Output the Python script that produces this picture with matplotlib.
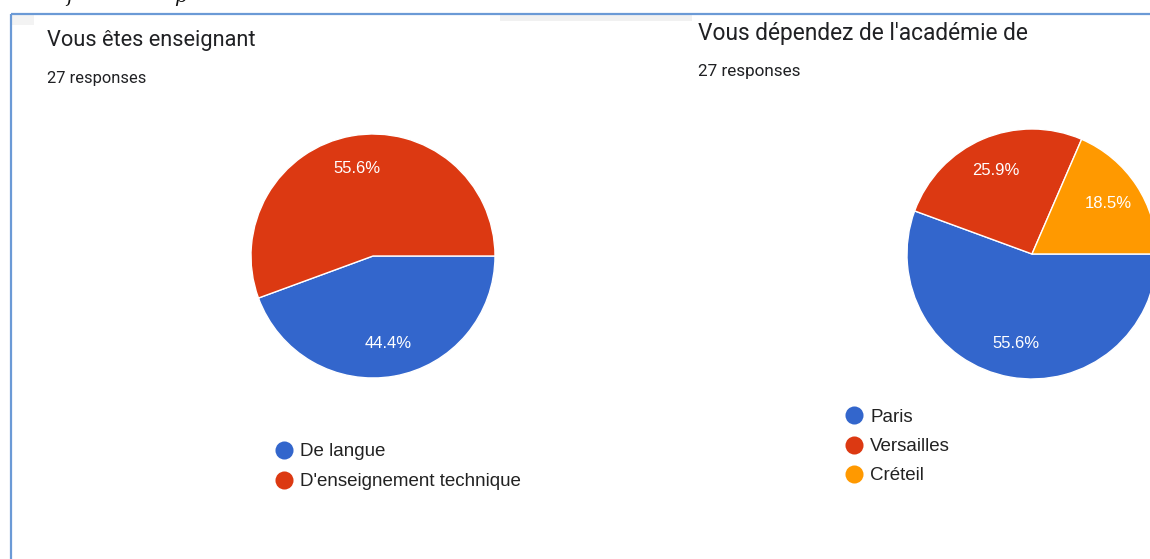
import matplotlib
matplotlib.use("Agg")
import matplotlib.pyplot as plt
from matplotlib.patches import Rectangle

# ---- data ----
left_title = "Vous êtes enseignant"
left_subtitle = "27 responses"
left_categories = ["De langue", "D'enseignement technique"]
left_values = [44.4, 55.6]

right_title = "Vous dépendez de l'académie de"
right_subtitle = "27 responses"
right_categories = ["Paris", "Versailles", "Créteil"]
right_values = [55.6, 25.9, 18.5]

colors = ["#3366CC", "#DC3912", "#FF9900"]

W, H = 1150, 559
fig = plt.figure(figsize=(W / 100, H / 100), dpi=100)
fig.patch.set_facecolor("white")

# overlay axes in pixel coordinates
ov = fig.add_axes([0, 0, 1, 1], zorder=0)
ov.set_xlim(0, W)
ov.set_ylim(H, 0)
ov.axis("off")

TITLE_FONT = ["Roboto", "DejaVu Sans"]
LABEL_FONT = ["Liberation Sans", "DejaVu Sans"]

# background details: panel gap shadow + frame
ov.add_patch(Rectangle((500, 15), 192, 6, color="#F1F1F1", lw=0))
ov.add_patch(Rectangle((12, 15), 22, 10, color="#F3F3F3", lw=0))
ov.plot([11, W], [14, 14], color="#6B9AD6", lw=1.6, solid_capstyle="butt")
ov.plot([11, 11], [14, H], color="#6B9AD6", lw=1.6, solid_capstyle="butt")

# clipped italic text fragment above the frame (cut off in the reference too)
ov.text(66, 1.5, "f", fontsize=14, family="DejaVu Serif", style="italic",
        va="baseline", color="#111111")
ov.text(174, 1.5, "p", fontsize=14, family="DejaVu Serif", style="italic",
        va="baseline", color="#111111")


def draw_panel(cx, cy, r, values, cats, title, sub, tx, ty, sy, lx, ly0,
               tsize, ssize):
    ax = fig.add_axes([(cx - r) / W, 1 - (cy + r) / H, 2 * r / W, 2 * r / H], zorder=2)
    ax.pie(
        values, colors=colors[:len(values)], startangle=0, counterclock=False,
        autopct="%.1f%%", pctdistance=0.73,
        wedgeprops=dict(edgecolor="white", linewidth=1.0),
        textprops=dict(color="white", fontsize=12, family=LABEL_FONT))
    ax.set_xlim(-1, 1)
    ax.set_ylim(-1, 1)
    ax.set_aspect("equal")
    ax.axis("off")

    ov.text(tx, ty, title, fontsize=tsize, family=TITLE_FONT, color="#202124",
            va="baseline", ha="left")
    ov.text(tx, sy, sub, fontsize=ssize, family=TITLE_FONT, color="#202124",
            va="baseline", ha="left")
    for i, c in enumerate(cats):
        y = ly0 + i * 29.5
        ov.plot([lx], [y], marker="o", markersize=13, color=colors[i],
                markeredgewidth=0, linestyle="")
        ov.text(lx + 16, y + 6.5, c, fontsize=13.5, family=LABEL_FONT,
                color="#222222", va="baseline", ha="left")


draw_panel(373, 256, 122, left_values, left_categories, left_title,
           left_subtitle, 47, 46, 83, 284, 450, 15.7, 11.9)
draw_panel(1032, 254, 125, right_values, right_categories, right_title,
           right_subtitle, 698, 40, 76, 854, 415, 16.4, 12.3)

fig.savefig("out.png", dpi=100, facecolor="white")
